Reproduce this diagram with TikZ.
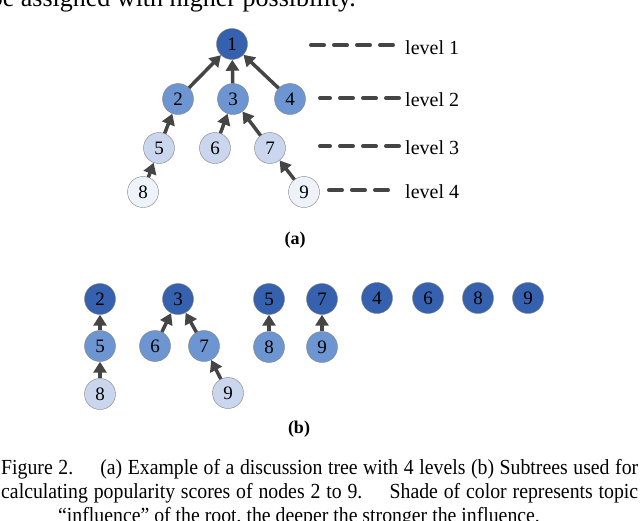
\documentclass[tikz,border=0pt]{standalone}
\usepackage{fontspec}
\setmainfont{Liberation Serif}
\newfontfamily\capfont[FakeStretch=0.92,Ligatures=TeX]{Liberation Serif}
\usetikzlibrary{arrows.meta}

\definecolor{deepblue}{HTML}{3561AE}
\definecolor{midblue}{HTML}{6C95D1}
\definecolor{paleblue}{HTML}{CAD6EE}
\definecolor{iceblue}{HTML}{EEF3FB}
\definecolor{arrowgray}{HTML}{454545}

\begin{document}
\begin{tikzpicture}[x=1pt,y=-1pt,
    tnode/.style={circle,draw=gray,thin,minimum size=31pt,inner sep=0pt,font=\fontsize{19}{19}\selectfont},
    lvl1/.style={fill=deepblue},
    lvl2/.style={fill=midblue},
    lvl3/.style={fill=paleblue},
    lvl4/.style={fill=iceblue},
    uparrow/.style={draw=arrowgray,line width=3.5pt,-{Triangle[length=11pt,width=13pt]}},
    lvline/.style={draw=arrowgray,line width=4pt,line cap=round,dash pattern=on 13pt off 10pt},
    lvtext/.style={anchor=base west,font=\fontsize{20}{20}\selectfont,inner sep=0pt},
    captext/.style={anchor=base west,font=\capfont\fontsize{21.5}{24}\selectfont,inner sep=0pt}]
\useasboundingbox (0,0) rectangle (640,520);

% text of the page round the figure
\node[anchor=base east,inner sep=0pt,font=\fontsize{26}{28}\selectfont] (top) at (356,6) {be assigned with higher possibility.};
\node[captext] (cap1) at (1,474) {\makebox[637pt][s]{Figure 2.\quad\ (a) Example of a discussion tree with 4 levels (b) Subtrees used for}};
\node[captext] (cap2) at (1,498) {\makebox[637pt][s]{calculating popularity scores of nodes 2 to 9.\quad\ Shade of color represents topic}};
\node[captext] (cap3) at (58,522) {“influence” of the root, the deeper the stronger the influence.};

% (a) the discussion tree
\begin{scope}[every node/.style={tnode}]
    \node[lvl1] (a1) at (232,44) {1};
    \node[lvl2] (a2) at (178,99) {2};
    \node[lvl2] (a3) at (233,99) {3};
    \node[lvl2] (a4) at (290,99) {4};
    \node[lvl3] (a5) at (159,148) {5};
    \node[lvl3] (a6) at (215,148) {6};
    \node[lvl3] (a7) at (270,148) {7};
    \node[lvl4] (a8) at (143,192) {8};
    \node[lvl4] (a9) at (304,192) {9};
\end{scope}
\begin{scope}[every edge/.style={uparrow}]
    \path (a2) edge (a1) (a3) edge (a1) (a4) edge (a1);
    \path (a5) edge (a2) (a6) edge (a3) (a7) edge (a3);
    \path (a8) edge (a5) (a9) edge (a7);
\end{scope}

% levels
\node[lvtext] (L1) at (405,54) {level 1};
\node[lvtext] (L2) at (405,106) {level 2};
\node[lvtext] (L3) at (405,154) {level 3};
\node[lvtext] (L4) at (405,198) {level 4};
\draw[lvline] ([shift={(-12,-2)}]L1.west) -- ++(-85,0);
\draw[lvline] ([shift={(-6,-1)}]L2.west) -- ++(-79,0);
\draw[lvline] ([shift={(-6,-1)}]L3.west) -- ++(-79,0);
\draw[lvline] ([shift={(-17,-1)}]L4.west) -- ++(-61,0);

\node[font=\fontsize{18}{18}\selectfont\bfseries] (capa) at (295,240) {(a)};

% (b) the subtrees
\begin{scope}[every node/.style={tnode}]
    \node[lvl1] (r2) at (100,299) {2};
    \node[lvl2] (r2n5) at (100,346) {5};
    \node[lvl3] (r2n8) at (100,394) {8};
    \node[lvl1] (r3) at (178,299) {3};
    \node[lvl2] (r3n6) at (155,346) {6};
    \node[lvl2] (r3n7) at (204,346) {7};
    \node[lvl3] (r3n9) at (228,393) {9};
    \node[lvl1] (r5) at (269,299) {5};
    \node[lvl2] (r5n8) at (269,347) {8};
    \node[lvl1] (r7) at (322,299) {7};
    \node[lvl2] (r7n9) at (322,347) {9};
    \node[lvl1] (r4) at (377,298) {4};
    \node[lvl1] (r6) at (428,298) {6};
    \node[lvl1] (r8) at (478,298) {8};
    \node[lvl1] (r9) at (528,298) {9};
\end{scope}
\begin{scope}[every edge/.style={uparrow}]
    \path (r2n5) edge (r2) (r2n8) edge (r2n5);
    \path (r3n6) edge (r3) (r3n7) edge (r3) (r3n9) edge (r3n7);
    \path (r5n8) edge (r5) (r7n9) edge (r7);
\end{scope}

\node[font=\fontsize{18}{18}\selectfont\bfseries] (capb) at (299,429) {(b)};
\end{tikzpicture}
\end{document}
